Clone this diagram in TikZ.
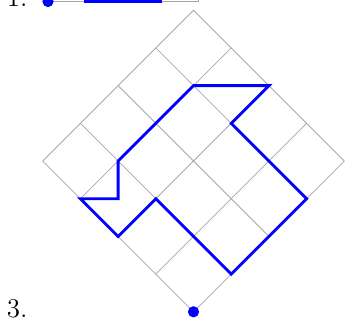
\documentclass[tikz,border=0pt]{standalone}
\begin{document}
\begin{tikzpicture}[lattice/.style={gray!70, line width=0.4pt},
    walk/.style={blue, line width=1.5pt},
    label/.style={anchor=base west, inner sep=0pt, font=\Large}]
    \useasboundingbox (-3.63,-0.154) rectangle (2.898,5.849);
    % end of the walk above
    \begin{scope}[shift={(-2.73,5.821)}]
      \draw [lattice] (0,0)--(2.828,0)--(2.828,0.5);
      \draw [walk] (0.707,0.5)--(0.707,0)--(2.121,0)--(2.121,0.5);
      \fill [blue] (0,0) circle (3pt);
    \end{scope}
    \node [label] (one) at (-3.508,5.724) {1.};
    % rotated lattice
    \begin{scope}[rotate=45]
      \draw [lattice] (0,0) grid (4,4);
      \draw [walk] (3,3)--(4,2)--(3,2)--(3,0)--(1,0)--(1,2)--(0,2)--(0,3)
        --(0.5,2.5)--(1,3)--cycle;
    \end{scope}
    \fill [blue] (0,0) circle (3pt);
    \node [label] (three) at (-3.508,-0.116) {3.};
  \end{tikzpicture}
\end{document}
